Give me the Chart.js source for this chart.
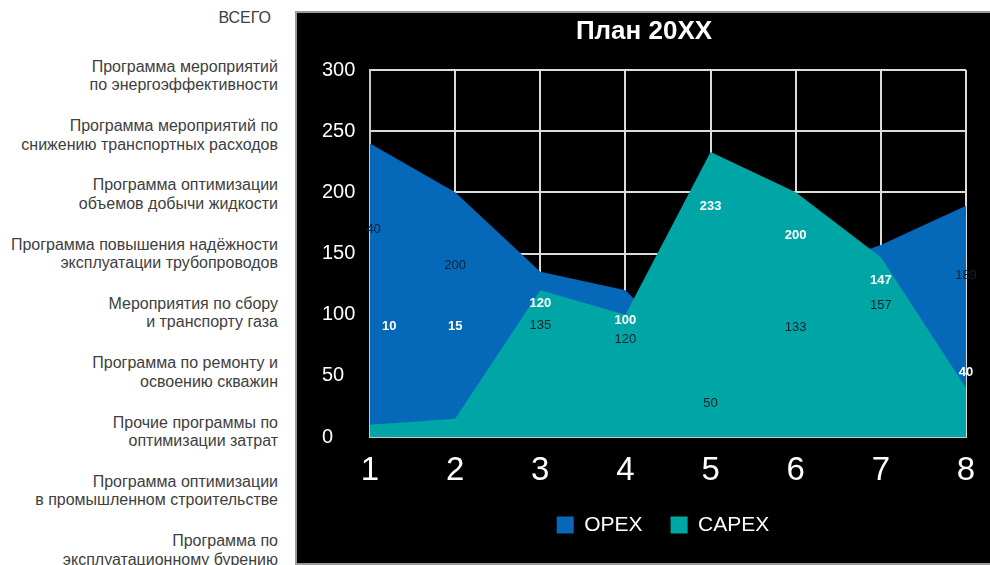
<!DOCTYPE html>
<html>
<head>
<meta charset="utf-8">
<script src="https://cdn.jsdelivr.net/npm/chart.js@4.4.1/dist/chart.umd.min.js"></script>
<style>
  body { margin: 0; width: 990px; height: 565px; background: #fff; overflow: hidden; position: relative; font-family: "Liberation Sans", Arial, sans-serif; }
  .prog { position: absolute; left: 0; width: 278px; text-align: right; font-size: 16px; line-height: 18.5px; color: #404040; }
  #panel { position: absolute; left: 295px; top: 11px; width: 697px; height: 550px; background: #000; border: 2px solid #9a9a9a; border-right: none; }
  #wrap { position: absolute; left: 0; top: 0; width: 693px; height: 550px; }
</style>
</head>
<body>
<div id="panel"><div id="wrap"><canvas id="myChart"></canvas></div></div>
<script>
const programs = [
    ["ВСЕГО"],
    ["Программа мероприятий", "по энергоэффективности"],
    ["Программа мероприятий по", "снижению транспортных расходов"],
    ["Программа оптимизации", "объемов добычи жидкости"],
    ["Программа повышения надёжности", "эксплуатации трубопроводов"],
    ["Мероприятия по сбору", "и транспорту газа"],
    ["Программа по ремонту и", "освоению скважин"],
    ["Прочие программы по", "оптимизации затрат"],
    ["Программа оптимизации", "в промышленном строительстве"],
    ["Программа по", "эксплуатационному бурению"],
];

const categories = ["1", "2", "3", "4", "5", "6", "7", "8"];
const opex = [240, 200, 135, 120, 50, 133, 157, 189];
const capex = [10, 15, 120, 100, 233, 200, 147, 40];
const yTicks = [0, 50, 100, 150, 200, 250, 300];

// left column of program names
programs.forEach((lines, i) => {
    const el = document.createElement("div");
    el.className = "prog";
    el.innerHTML = lines.join("<br>");
    const center = i === 0 ? 18 : 67 + 59.3 * (i - 1);
    el.style.top = (center - 9.25) + "px";
    if (i === 0) el.style.width = "271px";
    document.body.appendChild(el);
});

const regular = '"Liberation Sans", Arial, sans-serif';

// value labels, roughly where the original puts them inside the areas
const valueLabels = {
    id: "valueLabels",
    afterDatasetsDraw(chart) {
        const { ctx, chartArea } = chart;
        const x = chart.scales.x;
        const y = chart.scales.y;
        ctx.save();
        ctx.beginPath();
        ctx.rect(chartArea.left - 4, 0, chart.width - chartArea.left + 4, chart.height);
        ctx.clip();
        ctx.textAlign = "center";
        ctx.textBaseline = "middle";

        ctx.font = "13px " + regular;
        ctx.fillStyle = "#18202c";
        opex.forEach((v, i) => {
            ctx.fillText(v, x.getPixelForValue(i), y.getPixelForValue(v * 0.75 - 10));
        });

        ctx.font = "bold 13px " + regular;
        ctx.fillStyle = "#ffffff";
        capex.forEach((v, i) => {
            const w = ctx.measureText(String(v)).width;
            const px = Math.max(x.getPixelForValue(i), chartArea.left + 12 + w / 2);
            // tiny values get their label lifted up, like the original
            const at = v < 30 ? 90 : v * 0.7 + 25;
            ctx.fillText(v, px, y.getPixelForValue(at));
        });
        ctx.restore();
    },
};

// move the legend a little right, as in the original
const legendShift = {
    id: "legendShift",
    afterLayout(chart) {
        chart.legend.left += 19;
        chart.legend.right += 19;
    },
};

const myChart = new Chart(document.getElementById("myChart"), {
    type: "line",
    data: {
        labels: categories,
        datasets: [
            {
                label: "OPEX",
                data: opex,
                backgroundColor: "#0668b8",
                borderWidth: 0,
                pointRadius: 0,
                fill: "origin",
                tension: 0,
                order: 2,
            },
            {
                label: "CAPEX",
                data: capex,
                backgroundColor: "#00a6a6",
                borderWidth: 0,
                pointRadius: 0,
                fill: "origin",
                tension: 0,
                order: 1,
            },
        ],
    },
    options: {
        responsive: true,
        maintainAspectRatio: false,
        animation: false,
        layout: {
            padding: { left: 25, right: 24, top: 0, bottom: 17.5 },
        },
        scales: {
            x: {
                offset: false,
                grid: { color: "#dcdcdc", lineWidth: 2, drawTicks: false },
                border: { color: "#c8c8c8", width: 2 },
                ticks: {
                    color: "#ffffff",
                    padding: 14,
                    font: { family: regular, size: 33 },
                    maxRotation: 0,
                },
                afterFit(scale) {
                    scale.height = 49.5;
                },
            },
            y: {
                min: 0,
                max: 300,
                afterBuildTicks(scale) {
                    scale.ticks = yTicks.map((v) => ({ value: v }));
                },
                grid: { color: "#dcdcdc", lineWidth: 2, drawTicks: false },
                border: { color: "#c8c8c8", width: 2 },
                ticks: {
                    color: "#ffffff",
                    crossAlign: "far",
                    padding: 8,
                    font: { family: regular, size: 20 },
                },
                afterFit(scale) {
                    scale.width = 48;
                },
            },
        },
        plugins: {
            title: {
                display: true,
                text: "План 20XX",
                color: "#ffffff",
                font: { family: regular, size: 26, weight: "bold" },
                padding: { top: 3, bottom: 22.8 },
            },
            legend: {
                display: true,
                position: "bottom",
                reverse: true,
                labels: {
                    color: "#ffffff",
                    boxWidth: 17,
                    boxHeight: 17,
                    padding: 28,
                    font: { family: regular, size: 21 },
                },
            },
            tooltip: { enabled: false },
        },
    },
    plugins: [valueLabels, legendShift],
});
</script>
</body>
</html>
